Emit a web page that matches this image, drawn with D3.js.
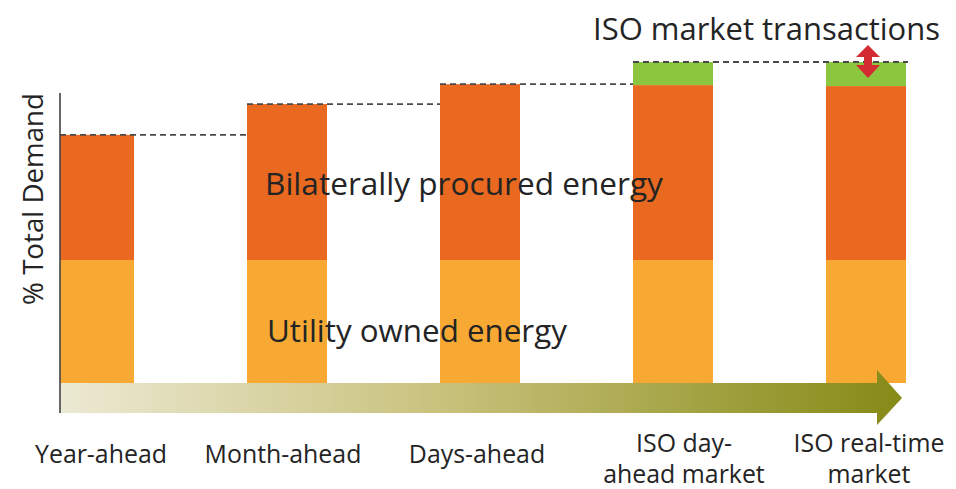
<!DOCTYPE html>
<html>
<head>
<meta charset="utf-8">
<script src="https://cdn.jsdelivr.net/npm/d3@7"></script>
<style>
  html, body { margin: 0; padding: 0; background: #ffffff; }
  svg { display: block; }
  text { font-family: "Open Sans", "DejaVu Sans", sans-serif; fill: #242424; }
</style>
</head>
<body>
<svg id="chart" width="956" height="489"></svg>
<script>
// ---- data ----
const categories = ["Year-ahead", "Month-ahead", "Days-ahead", "ISO day-ahead market", "ISO real-time market"];
const tickLabels = [["Year-ahead"], ["Month-ahead"], ["Days-ahead"], ["ISO day-", "ahead market"], ["ISO real-time", "market"]];
const utilityOwned = [38.3, 38.3, 38.3, 38.3, 38.3];
const bilateral = [39.0, 48.6, 54.8, 54.5, 54.2];
const isoMarket = [0, 0, 0, 7.2, 7.5];
const seriesNames = ["Utility owned energy", "Bilaterally procured energy", "ISO market transactions"];
const colors = ["#F7A934", "#E8691F", "#8CC63F"];

const svg = d3.select("#chart");
const axisX = 60;

const x = d3.scaleBand().domain(categories).range([54, 906]).paddingInner(0.5855).paddingOuter(0);
const y = d3.scaleLinear().domain([0, 100]).range([383, 62]);
const left = c => Math.max(axisX, x(c));

const rows = categories.map((c, i) => ({ cat: c, values: [utilityOwned[i], bilateral[i], isoMarket[i]] }));
const stack = d3.stack().keys([0, 1, 2]).value((d, k) => d.values[k]);
const stacked = stack(rows);

// gradient for time arrow
const defs = svg.append("defs");
const grad = defs.append("linearGradient").attr("id", "arrowGrad").attr("x1", "0%").attr("x2", "100%");
grad.append("stop").attr("offset", "0%").attr("stop-color", "#ECE9D3");
grad.append("stop").attr("offset", "45%").attr("stop-color", "#C9C27D");
grad.append("stop").attr("offset", "100%").attr("stop-color", "#868A16");

// bars
svg.append("g").selectAll("g").data(stacked).join("g")
  .attr("fill", (d, i) => colors[i])
  .selectAll("rect").data(d => d.filter(p => p[1] > p[0])).join("rect")
  .attr("x", d => left(d.data.cat))
  .attr("width", d => x(d.data.cat) + x.bandwidth() - left(d.data.cat))
  .attr("y", d => y(d[1]))
  .attr("height", d => y(d[0]) - y(d[1]));

// time arrow (shaft + head) along the base
const xEnd = x(categories[4]) + x.bandwidth();
const baseY = y(0);
const arrowPts = [
  [axisX, baseY], [xEnd - 29, baseY], [xEnd - 29, baseY - 13], [xEnd - 4, baseY + 15],
  [xEnd - 29, baseY + 42], [xEnd - 29, baseY + 30], [axisX, baseY + 30]
];
svg.append("path").attr("d", d3.line()(arrowPts)).attr("fill", "url(#arrowGrad)");

// dashed level lines
const totals = rows.map(r => d3.sum(r.values));
const dashG = svg.append("g").attr("stroke", "#4a4a4a").attr("stroke-width", 1.8).attr("stroke-dasharray", "6,4").attr("fill", "none");
for (let i = 0; i < categories.length - 1; i++) {
  const xa = left(categories[i]);
  const xb = (i === categories.length - 2) ? x(categories[i + 1]) + x.bandwidth() + 2 : x(categories[i + 1]);
  dashG.append("line").attr("x1", xa).attr("x2", xb).attr("y1", y(totals[i])).attr("y2", y(totals[i]));
}

// vertical axis line
svg.append("line").attr("x1", axisX).attr("x2", axisX).attr("y1", 93).attr("y2", 413)
  .attr("stroke", "#444").attr("stroke-width", 1.6);

// helper: fit font-size so text reaches a target width
function fit(sel, fs, target) {
  sel.attr("font-size", fs);
  const w = sel.node().getComputedTextLength();
  sel.attr("font-size", fs * target / w);
  return fs * target / w;
}

// axis title
const yt = svg.append("text").attr("transform", "translate(43,199) rotate(-90)")
  .attr("text-anchor", "middle").text("% Total Demand");
fit(yt, 28, 212);

// category labels
const lblG = svg.append("g");
const probe = lblG.append("text").text(tickLabels[0][0]);
const lfs = fit(probe, 24, 132);
probe.remove();
const labelShift = [7, -4, -3, 11, 3];
tickLabels.forEach((lines, i) => {
  const cx = x(categories[i]) + x.bandwidth() / 2 + labelShift[i];
  const t = lblG.append("text").attr("text-anchor", "middle").attr("font-size", lfs);
  const startY = lines.length === 1 ? 463 : 452;
  lines.forEach((ln, j) => t.append("tspan").attr("x", cx).attr("y", startY + j * 31).text(ln));
});

// series labels (inside chart)
const s0 = svg.append("text").attr("x", 267).attr("y", 342).text(seriesNames[0]);
fit(s0, 28, 300);
const s1 = svg.append("text").attr("x", 265).attr("y", 195).text(seriesNames[1]);
fit(s1, 28, 398);
const s2 = svg.append("text").attr("x", 940).attr("y", 40).attr("text-anchor", "end").text(seriesNames[2]);
fit(s2, 26, 347);

// red double arrow at last bar
const ax = x(categories[4]) + x.bandwidth() / 2 + 2;
const ay = y(100);
const dbl = [
  [ax, ay - 17], [ax + 12, ay - 5], [ax + 4, ay - 5], [ax + 4, ay + 3], [ax + 12, ay + 3],
  [ax, ay + 16], [ax - 12, ay + 3], [ax - 4, ay + 3], [ax - 4, ay - 5], [ax - 12, ay - 5]
];
svg.append("path").attr("d", d3.line()(dbl) + "Z").attr("fill", "#D42A32");
</script>
</body>
</html>
